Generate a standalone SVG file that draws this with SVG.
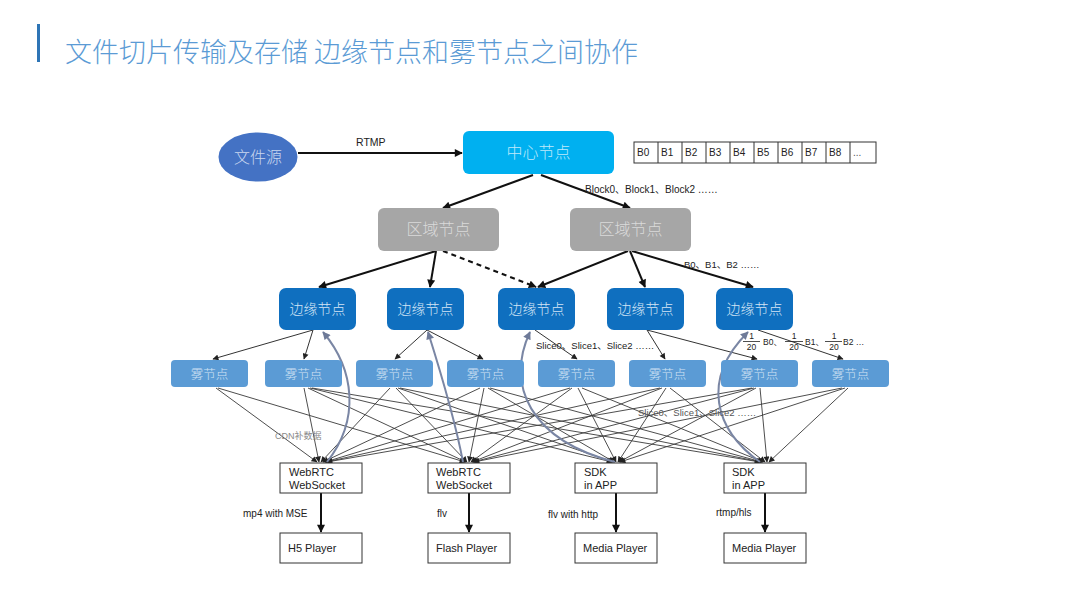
<svg xmlns="http://www.w3.org/2000/svg" width="1080" height="608" viewBox="0 0 1080 608">
<style>
.cjk{font-family:"Noto Sans CJK SC","Liberation Sans",sans-serif}
.lbl{font-family:"Liberation Sans","Noto Sans CJK SC",sans-serif;fill:#222}
.ntxt{font-family:"Noto Sans CJK SC",sans-serif;text-anchor:middle;font-weight:300}
.thick{stroke:#111;stroke-width:2;fill:none}
.thin{stroke:#333;stroke-width:1;fill:none}
.net{stroke:#3a3a3a;stroke-width:0.9;fill:none}
.curve{stroke:#7A86A4;stroke-width:2;fill:none}
.box{fill:#fff;stroke:#333;stroke-width:1}
.edge{fill:#0F6FBF}
.fog{fill:#5B9BD5}
.region{fill:#A6A6A6}
</style>
<defs>
<marker id="ab" viewBox="0 0 10 10" refX="9" refY="5" markerWidth="9" markerHeight="8" markerUnits="userSpaceOnUse" orient="auto"><path d="M0,0 L10,5 L0,10 z" fill="#111"/></marker>
<marker id="as" viewBox="0 0 10 10" refX="9" refY="5" markerWidth="7" markerHeight="6" markerUnits="userSpaceOnUse" orient="auto"><path d="M0,0 L10,5 L0,10 z" fill="#222"/></marker>
<marker id="ac" viewBox="0 0 10 10" refX="9" refY="5" markerWidth="9" markerHeight="8" markerUnits="userSpaceOnUse" orient="auto"><path d="M0,0 L10,5 L0,10 z" fill="#6E7A98"/></marker>
</defs>
<rect width="1080" height="608" fill="#fff"/>
<rect x="37" y="24" width="3" height="38" fill="#2E75B6"/>
<text x="65" y="62" class="cjk" font-size="27" font-weight="300" fill="#5B9BD5">文件切片传输及存储 边缘节点和雾节点之间协作</text>

<g id="connectors">
<line class="thick" x1="298" y1="153" x2="462" y2="153" marker-end="url(#ab)"/>
<line class="thick" x1="533" y1="175" x2="443" y2="208" marker-end="url(#ab)"/>
<line class="thick" x1="541" y1="175" x2="630" y2="208" marker-end="url(#ab)"/>
<line class="thick" x1="436" y1="251" x2="319" y2="287" marker-end="url(#ab)"/>
<line class="thick" x1="436" y1="251" x2="430" y2="287" marker-end="url(#ab)"/>
<line class="thick" x1="443" y1="251" x2="536" y2="287" stroke-dasharray="5,4" marker-end="url(#ab)"/>
<line class="thick" x1="628" y1="251" x2="538" y2="287" marker-end="url(#ab)"/>
<line class="thick" x1="630" y1="251" x2="645" y2="287" marker-end="url(#ab)"/>
<line class="thick" x1="632" y1="251" x2="753" y2="287" marker-end="url(#ab)"/>
<line class="thin" x1="313" y1="330" x2="213" y2="359" marker-end="url(#as)"/>
<line class="thin" x1="313" y1="330" x2="304" y2="359" marker-end="url(#as)"/>
<line class="thin" x1="427" y1="330" x2="395" y2="359" marker-end="url(#as)"/>
<line class="thin" x1="427" y1="330" x2="483" y2="359" marker-end="url(#as)"/>
<line class="thin" x1="535" y1="330" x2="577" y2="359" marker-end="url(#as)"/>
<line class="thin" x1="647" y1="330" x2="665" y2="359" marker-end="url(#as)"/>
<line class="thin" x1="647" y1="330" x2="757" y2="359" marker-end="url(#as)"/>
<line class="thin" x1="758" y1="330" x2="843" y2="359" marker-end="url(#as)"/>
<g class="net">
<line x1="216" y1="388" x2="317" y2="462" marker-end="url(#as)"/>
<line x1="218" y1="388" x2="465" y2="462" marker-end="url(#as)"/>
<line x1="304" y1="388" x2="319" y2="462" marker-end="url(#as)"/>
<line x1="308" y1="388" x2="466" y2="462" marker-end="url(#as)"/>
<line x1="310" y1="388" x2="612" y2="462" marker-end="url(#as)"/>
<line x1="312" y1="388" x2="760" y2="462" marker-end="url(#as)"/>
<line x1="390" y1="388" x2="321" y2="462" marker-end="url(#as)"/>
<line x1="396" y1="388" x2="467" y2="462" marker-end="url(#as)"/>
<line x1="398" y1="388" x2="613" y2="462" marker-end="url(#as)"/>
<line x1="400" y1="388" x2="761" y2="462" marker-end="url(#as)"/>
<line x1="480" y1="388" x2="323" y2="462" marker-end="url(#as)"/>
<line x1="484" y1="388" x2="469" y2="462" marker-end="url(#as)"/>
<line x1="488" y1="388" x2="614" y2="462" marker-end="url(#as)"/>
<line x1="490" y1="388" x2="762" y2="462" marker-end="url(#as)"/>
<line x1="570" y1="388" x2="325" y2="462" marker-end="url(#as)"/>
<line x1="572" y1="388" x2="471" y2="462" marker-end="url(#as)"/>
<line x1="578" y1="388" x2="616" y2="462" marker-end="url(#as)"/>
<line x1="582" y1="388" x2="763" y2="462" marker-end="url(#as)"/>
<line x1="660" y1="388" x2="326" y2="462" marker-end="url(#as)"/>
<line x1="662" y1="388" x2="472" y2="462" marker-end="url(#as)"/>
<line x1="666" y1="388" x2="618" y2="462" marker-end="url(#as)"/>
<line x1="670" y1="388" x2="765" y2="462" marker-end="url(#as)"/>
<line x1="752" y1="388" x2="327" y2="462" marker-end="url(#as)"/>
<line x1="754" y1="388" x2="473" y2="462" marker-end="url(#as)"/>
<line x1="756" y1="388" x2="619" y2="462" marker-end="url(#as)"/>
<line x1="760" y1="388" x2="767" y2="462" marker-end="url(#as)"/>
<line x1="842" y1="388" x2="474" y2="462" marker-end="url(#as)"/>
<line x1="845" y1="388" x2="620" y2="462" marker-end="url(#as)"/>
<line x1="848" y1="388" x2="769" y2="462" marker-end="url(#as)"/>
</g>
<path class="curve" d="M327,462 C360,420 355,370 323,332" marker-end="url(#ac)"/>
<path class="curve" d="M463,462 C455,420 440,370 428,332" marker-end="url(#ac)"/>
<path class="curve" d="M615,462 C530,440 505,385 530,332" marker-end="url(#ac)"/>
<path class="curve" d="M760,462 C715,430 700,380 748,332" marker-end="url(#ac)"/>
<line class="thick" x1="321" y1="493" x2="321" y2="532" marker-end="url(#ab)"/>
<line class="thick" x1="469" y1="493" x2="469" y2="532" marker-end="url(#ab)"/>
<line class="thick" x1="616" y1="493" x2="616" y2="532" marker-end="url(#ab)"/>
<line class="thick" x1="765" y1="493" x2="765" y2="532" marker-end="url(#ab)"/>
</g>

<g id="labels" class="lbl">
<text x="356" y="146" font-size="10.5">RTMP</text>
<text x="585" y="193" font-size="10">Block0、Block1、Block2 ……</text>
<text x="684" y="268" font-size="9.5">B0、B1、B2 ……</text>
<text x="536" y="349" font-size="9.5">Slice0、Slice1、Slice2 ……</text>
<text x="638" y="416" font-size="9.5" fill="#555">Slice0、Slice1、Slice2 ……</text>
<text x="275" y="439" font-size="9" fill="#888">CDN补数据</text>
<text x="243" y="517" font-size="10">mp4 with MSE</text>
<text x="437" y="517" font-size="10">flv</text>
<text x="548" y="518" font-size="10">flv with http</text>
<text x="716" y="516" font-size="10">rtmp/hls</text>
</g>
<g id="fraction-label" class="lbl" font-size="8.5">
<text x="751.5" y="339" text-anchor="middle">1</text>
<line x1="743" y1="341.5" x2="760" y2="341.5" stroke="#222" stroke-width="0.8"/>
<text x="751.5" y="350" text-anchor="middle">20</text>
<text x="763" y="345">B0、</text>
<text x="794" y="339" text-anchor="middle">1</text>
<line x1="785" y1="341.5" x2="803" y2="341.5" stroke="#222" stroke-width="0.8"/>
<text x="794" y="350" text-anchor="middle">20</text>
<text x="805" y="345">B1、</text>
<text x="834" y="339" text-anchor="middle">1</text>
<line x1="825" y1="341.5" x2="842" y2="341.5" stroke="#222" stroke-width="0.8"/>
<text x="834" y="350" text-anchor="middle">20</text>
<text x="843" y="345">B2 …</text>
</g>

<g id="source"><ellipse cx="258" cy="157" rx="39.5" ry="24.5" fill="#4472C4"/><text x="258" y="163" class="ntxt" font-size="16" fill="#C9D7EF">文件源</text></g>
<g id="center"><rect x="463" y="131" width="151" height="43" rx="6" fill="#00B0F0"/><text x="538.5" y="158" class="ntxt" font-size="16" fill="#BEE9FB">中心节点</text></g>
<g id="blocks" class="lbl" font-size="10">
<rect x="634" y="142" width="242" height="21" class="box"/>
<line x1="658" y1="142" x2="658" y2="163" stroke="#333"/><line x1="682" y1="142" x2="682" y2="163" stroke="#333"/><line x1="706" y1="142" x2="706" y2="163" stroke="#333"/><line x1="730" y1="142" x2="730" y2="163" stroke="#333"/><line x1="754" y1="142" x2="754" y2="163" stroke="#333"/><line x1="778" y1="142" x2="778" y2="163" stroke="#333"/><line x1="802" y1="142" x2="802" y2="163" stroke="#333"/><line x1="826" y1="142" x2="826" y2="163" stroke="#333"/><line x1="850" y1="142" x2="850" y2="163" stroke="#333"/>
<text x="637" y="156">B0</text><text x="661" y="156">B1</text><text x="685" y="156">B2</text><text x="709" y="156">B3</text><text x="733" y="156">B4</text><text x="757" y="156">B5</text><text x="781" y="156">B6</text><text x="805" y="156">B7</text><text x="829" y="156">B8</text><text x="853" y="156" fill="#555">...</text>
</g>
<g id="region1"><rect x="378" y="208" width="121" height="43" rx="6" class="region"/><text x="438.5" y="235" class="ntxt" font-size="16" fill="#DADADA">区域节点</text></g>
<g id="region2"><rect x="570" y="208" width="121" height="43" rx="6" class="region"/><text x="630.5" y="235" class="ntxt" font-size="16" fill="#DADADA">区域节点</text></g>

<g id="edge1"><rect x="279" y="288" width="77" height="42" rx="7" class="edge"/><text x="317.5" y="314" class="ntxt" font-size="14" fill="#D3E4F5">边缘节点</text></g>
<g id="edge2"><rect x="387" y="288" width="77" height="42" rx="7" class="edge"/><text x="425.5" y="314" class="ntxt" font-size="14" fill="#D3E4F5">边缘节点</text></g>
<g id="edge3"><rect x="498" y="288" width="77" height="42" rx="7" class="edge"/><text x="536.5" y="314" class="ntxt" font-size="14" fill="#D3E4F5">边缘节点</text></g>
<g id="edge4"><rect x="607" y="288" width="77" height="42" rx="7" class="edge"/><text x="645.5" y="314" class="ntxt" font-size="14" fill="#D3E4F5">边缘节点</text></g>
<g id="edge5"><rect x="716" y="288" width="77" height="42" rx="7" class="edge"/><text x="754.5" y="314" class="ntxt" font-size="14" fill="#D3E4F5">边缘节点</text></g>

<g id="fog1"><rect x="171" y="360" width="77" height="27" rx="4" class="fog"/><text x="209.5" y="378.5" class="ntxt" font-size="12.5" fill="#D2E3F4">雾节点</text></g>
<g id="fog2"><rect x="265" y="360" width="77" height="27" rx="4" class="fog"/><text x="303.5" y="378.5" class="ntxt" font-size="12.5" fill="#D2E3F4">雾节点</text></g>
<g id="fog3"><rect x="356" y="360" width="77" height="27" rx="4" class="fog"/><text x="394.5" y="378.5" class="ntxt" font-size="12.5" fill="#D2E3F4">雾节点</text></g>
<g id="fog4"><rect x="447" y="360" width="77" height="27" rx="4" class="fog"/><text x="485.5" y="378.5" class="ntxt" font-size="12.5" fill="#D2E3F4">雾节点</text></g>
<g id="fog5"><rect x="538" y="360" width="77" height="27" rx="4" class="fog"/><text x="576.5" y="378.5" class="ntxt" font-size="12.5" fill="#D2E3F4">雾节点</text></g>
<g id="fog6"><rect x="629" y="360" width="77" height="27" rx="4" class="fog"/><text x="667.5" y="378.5" class="ntxt" font-size="12.5" fill="#D2E3F4">雾节点</text></g>
<g id="fog7"><rect x="721" y="360" width="77" height="27" rx="4" class="fog"/><text x="759.5" y="378.5" class="ntxt" font-size="12.5" fill="#D2E3F4">雾节点</text></g>
<g id="fog8"><rect x="812" y="360" width="77" height="27" rx="4" class="fog"/><text x="850.5" y="378.5" class="ntxt" font-size="12.5" fill="#D2E3F4">雾节点</text></g>

<g id="client1" class="lbl" font-size="11"><rect x="280" y="463" width="82" height="30" class="box"/><text x="289" y="476">WebRTC</text><text x="289" y="489">WebSocket</text></g>
<g id="client2" class="lbl" font-size="11"><rect x="428" y="463" width="82" height="30" class="box"/><text x="436" y="476">WebRTC</text><text x="436" y="489">WebSocket</text></g>
<g id="client3" class="lbl" font-size="11"><rect x="575" y="463" width="82" height="30" class="box"/><text x="584" y="476">SDK</text><text x="584" y="489">in APP</text></g>
<g id="client4" class="lbl" font-size="11"><rect x="724" y="463" width="82" height="30" class="box"/><text x="732" y="476">SDK</text><text x="732" y="489">in APP</text></g>

<g id="player1" class="lbl" font-size="11"><rect x="280" y="533" width="82" height="30" class="box"/><text x="288" y="552">H5 Player</text></g>
<g id="player2" class="lbl" font-size="11"><rect x="428" y="533" width="82" height="30" class="box"/><text x="436" y="552">Flash Player</text></g>
<g id="player3" class="lbl" font-size="11"><rect x="575" y="533" width="82" height="30" class="box"/><text x="583" y="552">Media Player</text></g>
<g id="player4" class="lbl" font-size="11"><rect x="724" y="533" width="82" height="30" class="box"/><text x="732" y="552">Media Player</text></g>
</svg>
